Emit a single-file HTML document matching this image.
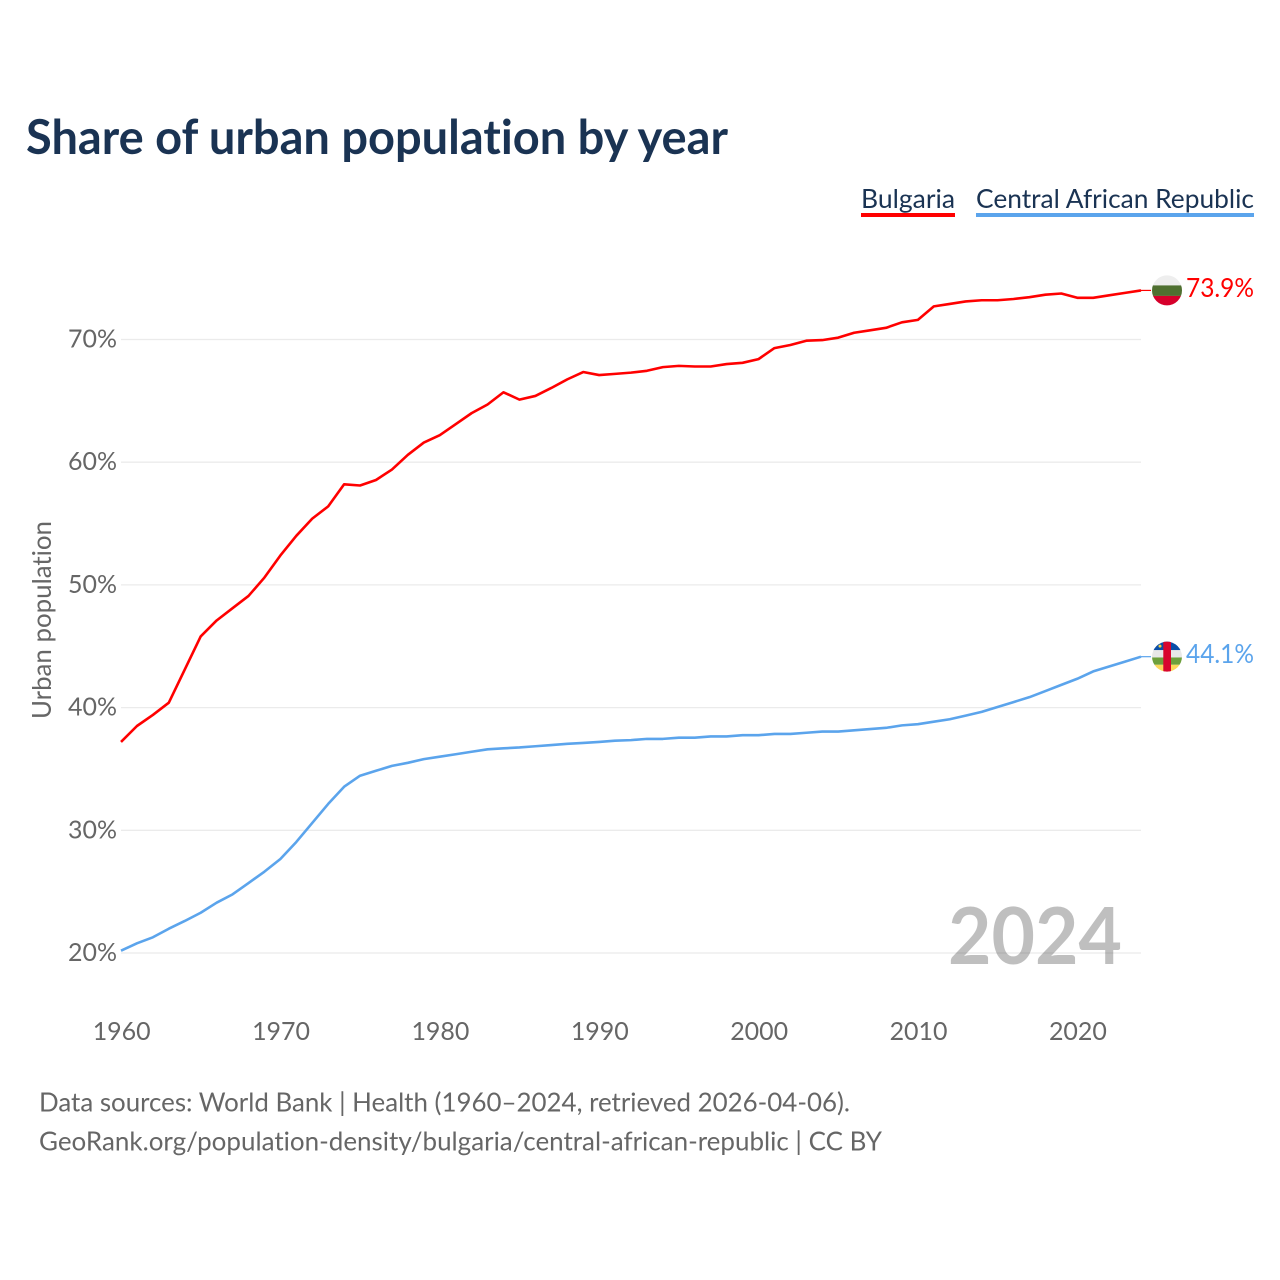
<!DOCTYPE html>
<html lang="en">
<head>
<meta charset="utf-8">
<title>Share of urban population by year</title>
<style>
html,body{margin:0;padding:0;background:#fff;}
svg{display:block;}
text{font-family:Lato,Carlito,"Liberation Sans",sans-serif;font-variant-ligatures:none;font-feature-settings:"liga" 0,"clig" 0;}
</style>
</head>
<body>
<svg id="chart" xmlns="http://www.w3.org/2000/svg" width="1280" height="1280" viewBox="0 0 1280 1280">
  <defs>
    <clipPath id="clip-a"><circle id="clip-a-c" r="15"/></clipPath>
    <clipPath id="clip-b"><circle id="clip-b-c" r="15"/></clipPath>
  </defs>
  <rect width="1280" height="1280" fill="#fff"/>
  <text x="26" y="154" font-size="47.5" font-weight="700" fill="#1a3353" textLength="702" lengthAdjust="spacingAndGlyphs">Share of urban population by year</text>

  <g>
    <text x="861" y="208" font-size="26.5" fill="#1a3353" textLength="94" lengthAdjust="spacingAndGlyphs">Bulgaria</text>
    <rect x="861" y="213" width="94" height="4" fill="#ff0000"/>
  </g>
  <g>
    <text x="976" y="208" font-size="26.5" fill="#1a3353" textLength="278" lengthAdjust="spacingAndGlyphs">Central African Republic</text>
    <rect x="976" y="213" width="278" height="4" fill="#5ba4ec"/>
  </g>

  <g id="grid"></g>
  <g id="yticks"></g>
  <g id="xticks"></g>
  <text transform="translate(51,620) rotate(-90)" text-anchor="middle" font-size="26.5" fill="#666" textLength="198" lengthAdjust="spacingAndGlyphs">Urban population</text>

  <text x="1122" y="964" text-anchor="end" font-size="79" font-weight="700" fill="#000" fill-opacity="0.25" textLength="174" lengthAdjust="spacingAndGlyphs">2024</text>

  <path id="line-a" fill="none" stroke="#ff0000" stroke-width="2.6" stroke-linejoin="round"/>
  <path id="line-b" fill="none" stroke="#5ba4ec" stroke-width="2.6" stroke-linejoin="round"/>
  <line id="lead-a" stroke="#ff0000" stroke-width="1.2"/>
  <line id="lead-b" stroke="#5ba4ec" stroke-width="1.2"/>

  <g id="flag-a">
    <g clip-path="url(#clip-a)">
      <rect x="-16" y="-16" width="32" height="32" fill="#eeeeee"/>
      <rect x="-16" y="-5" width="32" height="10.5" fill="#4f7030"/>
      <rect x="-16" y="5.5" width="32" height="11" fill="#d6002b"/>
    </g>
  </g>
  <g id="flag-b">
    <g clip-path="url(#clip-b)">
      <rect x="-16" y="-16" width="32" height="9.5" fill="#0a4fa8"/>
      <rect x="-16" y="-6.5" width="32" height="7.3" fill="#e8e8e8"/>
      <rect x="-16" y="0.8" width="32" height="7.3" fill="#6ea03c"/>
      <rect x="-16" y="8.1" width="32" height="8" fill="#fbd85a"/>
      <rect x="-3.7" y="-16" width="7.7" height="32" fill="#d8062e"/>
      <circle cx="-7" cy="-10.5" r="1.5" fill="#f5d040"/>
    </g>
  </g>
  <text id="label-a" x="1254" text-anchor="end" font-size="26.5" fill="#ff0000" textLength="68" lengthAdjust="spacingAndGlyphs"></text>
  <text id="label-b" x="1254" text-anchor="end" font-size="26.5" fill="#5ba4ec" textLength="68" lengthAdjust="spacingAndGlyphs"></text>

  <text x="39" y="1111.5" font-size="26.5" fill="#666" textLength="811" lengthAdjust="spacingAndGlyphs">Data sources: World Bank | Health (1960–2024, retrieved 2026-04-06).</text>
  <text x="39" y="1150.5" font-size="26.5" fill="#666" textLength="843" lengthAdjust="spacingAndGlyphs">GeoRank.org/population-density/bulgaria/central-african-republic | CC BY</text>
</svg>
<script>
var firstYear = 1960;
var lastYear = 2024;
var xTickYears = [1960, 1970, 1980, 1990, 2000, 2010, 2020];
var yTickValues = [20, 30, 40, 50, 60, 70];
var bulgariaValues = [37.2,38.5,39.4,40.4,43.1,45.8,47.1,48.1,49.1,50.6,52.4,54.0,55.4,56.4,58.2,58.1,58.55,59.4,60.6,61.6,62.2,63.1,64.0,64.7,65.7,65.1,65.4,66.05,66.75,67.35,67.1,67.2,67.3,67.45,67.75,67.85,67.8,67.8,68.0,68.1,68.4,69.3,69.55,69.9,69.95,70.15,70.55,70.75,70.95,71.4,71.6,72.7,72.9,73.1,73.2,73.2,73.3,73.45,73.65,73.75,73.4,73.4,73.6,73.8,74.0];
var carValues = [20.19,20.79,21.28,21.98,22.61,23.28,24.1,24.78,25.7,26.63,27.66,29.05,30.6,32.15,33.55,34.45,34.85,35.25,35.5,35.8,36.0,36.2,36.4,36.6,36.68,36.75,36.85,36.95,37.05,37.12,37.2,37.3,37.35,37.45,37.45,37.55,37.55,37.65,37.65,37.75,37.75,37.85,37.85,37.95,38.05,38.05,38.15,38.25,38.35,38.55,38.65,38.85,39.05,39.35,39.65,40.05,40.45,40.85,41.35,41.85,42.35,42.95,43.35,43.75,44.15];
var bulgariaLabel = "73.9%";
var carLabel = "44.1%";

var NS = "http://www.w3.org/2000/svg";
function xScale(year) { return 121 + (year - firstYear) * (1141 - 121) / (lastYear - firstYear); }
function yScale(v) { return 953 - (v - 20) * (953 - 339.5) / 50; }
function linePath(vals) {
  var d = "";
  for (var i = 0; i < vals.length; i++) {
    d += (i ? "L" : "M") + xScale(firstYear + i).toFixed(2) + " " + yScale(vals[i]).toFixed(2);
  }
  return d;
}
var gridG = document.getElementById("grid");
var yG = document.getElementById("yticks");
var xG = document.getElementById("xticks");
yTickValues.forEach(function (v) {
  var ln = document.createElementNS(NS, "line");
  
  
  ln.setAttribute("x1", 121);
  ln.setAttribute("x2", 1141);
  ln.setAttribute("y1", yScale(v));
  ln.setAttribute("y2", yScale(v));
  ln.setAttribute("stroke", "#ebebeb");
  ln.setAttribute("stroke-width", "1.3");
  gridG.appendChild(ln);
  var t = document.createElementNS(NS, "text");
  
  
  t.setAttribute("x", 117);
  t.setAttribute("y", yScale(v) + 8);
  t.setAttribute("text-anchor", "end");
  t.setAttribute("font-size", "25.5");
  t.setAttribute("fill", "#666");
  t.setAttribute("textLength", "49");
  t.setAttribute("lengthAdjust", "spacingAndGlyphs");
  t.textContent = v + "%";
  yG.appendChild(t);
});
xTickYears.forEach(function (y) {
  var t = document.createElementNS(NS, "text");
  
  
  t.setAttribute("x", xScale(y) + 0.7);
  t.setAttribute("y", 1040);
  t.setAttribute("text-anchor", "middle");
  t.setAttribute("font-size", "25.5");
  t.setAttribute("fill", "#666");
  t.setAttribute("textLength", "58");
  t.setAttribute("lengthAdjust", "spacingAndGlyphs");
  t.textContent = y;
  xG.appendChild(t);
});
document.getElementById("line-a").setAttribute("d", linePath(bulgariaValues));
document.getElementById("line-b").setAttribute("d", linePath(carValues));
function placeEnd(vals, key, text) {
  var y = yScale(vals[vals.length - 1]);
  var x = xScale(lastYear);
  var lead = document.getElementById("lead-" + key);
  lead.setAttribute("x1", x);
  lead.setAttribute("x2", x + 10);
  lead.setAttribute("y1", y);
  lead.setAttribute("y2", y);
  document.getElementById("flag-" + key).setAttribute("transform", "translate(1167," + y + ")");
  document.getElementById("clip-" + key + "-c").setAttribute("r", "15");
  var lab = document.getElementById("label-" + key);
  lab.setAttribute("y", y + 6.5);
  lab.textContent = text;
}
placeEnd(bulgariaValues, "a", bulgariaLabel);
placeEnd(carValues, "b", carLabel);
</script>
</body>
</html>
